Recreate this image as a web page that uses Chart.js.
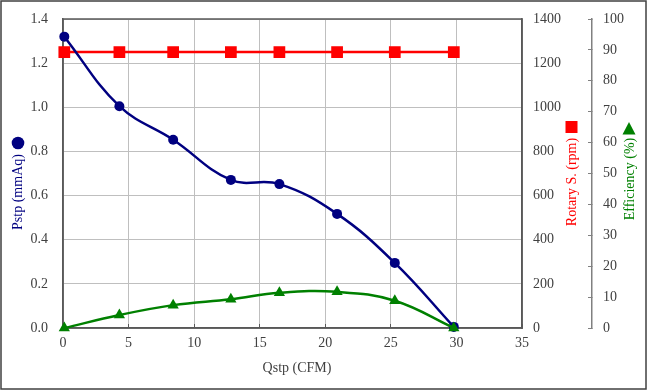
<!DOCTYPE html>
<html>
<head>
<meta charset="utf-8">
<script src="https://cdn.jsdelivr.net/npm/chart.js@4/dist/chart.umd.min.js"></script>
<style>
  html, body { margin: 0; padding: 0; background: #fff; }
  #wrap { width: 647px; height: 390px; }
</style>
</head>
<body>
<div id="wrap"><canvas id="chart" width="647" height="390"></canvas></div>
<script>
// data
const qstp = [0.1, 4.3, 8.4, 12.8, 16.5, 20.9, 25.3, 29.8];
const pstp = [1.32, 1.005, 0.853, 0.671, 0.652, 0.517, 0.295, 0.005];
const rotary = [1250, 1250, 1250, 1250, 1250, 1250, 1250, 1250];
const efficiency = [0, 4.2, 7.4, 9.3, 11.4, 11.7, 8.8, 0];

const NAVY = '#000080';
const RED = '#FF0000';
const GREEN = '#008000';
const TEXT = '#404040';
const FONT = 'Liberation Serif';

const pairs = (ys) => qstp.map((x, i) => ({ x, y: ys[i] }));

// fixed axis box size, without the extra label padding chart.js adds on top
const fixWidth = (w) => (s) => { s.width = w; s.paddingTop = 0; s.paddingBottom = 0; };

// frame, axis titles and their marker symbols
const decor = {
  id: 'decor',
  beforeDatasetsDraw(chart) {
    const { ctx, chartArea: a } = chart;
    ctx.save();
    ctx.strokeStyle = '#595959';
    ctx.lineWidth = 1.5;
    ctx.strokeRect(a.left, a.top, a.right - a.left, a.bottom - a.top);
    ctx.restore();
  },
  afterDraw(chart) {
    const { ctx } = chart;
    ctx.save();
    // outer border
    ctx.strokeStyle = '#404040';
    ctx.lineWidth = 1.5;
    ctx.strokeRect(1, 1, 645, 388);

    ctx.font = '14px "' + FONT + '"';
    ctx.textAlign = 'center';
    ctx.textBaseline = 'middle';

    // x title
    ctx.fillStyle = TEXT;
    ctx.fillText('Qstp (CFM)', 297, 368);

    const vtext = (txt, x, y, color) => {
      ctx.save();
      ctx.translate(x, y);
      ctx.rotate(-Math.PI / 2);
      ctx.fillStyle = color;
      ctx.fillText(txt, 0, 0);
      ctx.restore();
    };
    vtext('Pstp (mmAq)', 18, 192, NAVY);
    vtext('Rotary S. (rpm)', 572, 182, RED);
    vtext('Efficiency (%)', 630, 179, GREEN);

    // markers
    ctx.fillStyle = NAVY;
    ctx.beginPath();
    ctx.arc(18, 143, 6.3, 0, Math.PI * 2);
    ctx.fill();

    ctx.fillStyle = RED;
    ctx.fillRect(565.5, 121, 12, 12);

    ctx.fillStyle = GREEN;
    ctx.beginPath();
    ctx.moveTo(629, 122);
    ctx.lineTo(635.5, 134.5);
    ctx.lineTo(622.5, 134.5);
    ctx.closePath();
    ctx.fill();
    ctx.restore();
  }
};

new Chart(document.getElementById('chart'), {
  type: 'line',
  data: {
    datasets: [
      {
        label: 'Efficiency (%)',
        data: pairs(efficiency),
        yAxisID: 'y2',
        order: 0,
        clip: false,
        borderColor: GREEN,
        backgroundColor: GREEN,
        borderWidth: 2.5,
        pointStyle: 'triangle',
        pointRadius: 6.5,
        pointBorderWidth: 0,
        tension: 0.4
      },
      {
        label: 'Pstp (mmAq)',
        data: pairs(pstp),
        yAxisID: 'y',
        order: 1,
        clip: false,
        borderColor: NAVY,
        backgroundColor: NAVY,
        borderWidth: 2.5,
        pointStyle: 'circle',
        pointRadius: 5,
        pointBorderWidth: 0,
        tension: 0.4
      },
      {
        label: 'Rotary S. (rpm)',
        data: pairs(rotary),
        yAxisID: 'y1',
        order: 2,
        clip: false,
        borderColor: RED,
        backgroundColor: RED,
        borderWidth: 2.5,
        pointStyle: 'rect',
        pointRadius: 8.3,
        pointBorderWidth: 0,
        tension: 0
      }
    ]
  },
  options: {
    responsive: false,
    animation: false,
    layout: { padding: { top: 19, left: 0, right: 0, bottom: 0 } },
    plugins: {
      legend: { display: false },
      tooltip: { enabled: false }
    },
    scales: {
      x: {
        type: 'linear',
        min: 0,
        max: 35,
        ticks: { stepSize: 5, padding: 11, color: TEXT, font: { family: FONT, size: 14 } },
        grid: { color: '#BFBFBF', drawTicks: true, tickLength: -4, tickColor: '#595959' },
        border: { display: true, color: '#595959', width: 1.5 },
        afterFit: (s) => { s.height = 62; }
      },
      y: {
        position: 'left',
        min: 0,
        max: 1.4,
        ticks: {
          stepSize: 0.2,
          padding: 15,
          color: TEXT,
          font: { family: FONT, size: 14 },
          callback: (v) => v.toFixed(1)
        },
        grid: { color: '#BFBFBF', drawTicks: false },
        border: { display: true, color: '#595959', width: 1.5 },
        afterFit: fixWidth(63)
      },
      y1: {
        position: 'right',
        min: 0,
        max: 1400,
        ticks: {
          stepSize: 200,
          padding: 11,
          color: TEXT,
          font: { family: FONT, size: 14 },
          callback: (v) => String(v)
        },
        grid: { drawOnChartArea: false, drawTicks: false },
        border: { display: true, color: '#595959', width: 1.5 },
        afterFit: fixWidth(70)
      },
      y2: {
        position: 'right',
        min: 0,
        max: 100,
        ticks: { stepSize: 10, padding: 15, color: TEXT, font: { family: FONT, size: 14 } },
        grid: { drawOnChartArea: false, drawTicks: true, tickLength: -4, color: '#808080' },
        border: { display: true, color: '#808080', width: 1.5 },
        afterFit: fixWidth(55)
      }
    }
  },
  plugins: [decor]
});
</script>
</body>
</html>
